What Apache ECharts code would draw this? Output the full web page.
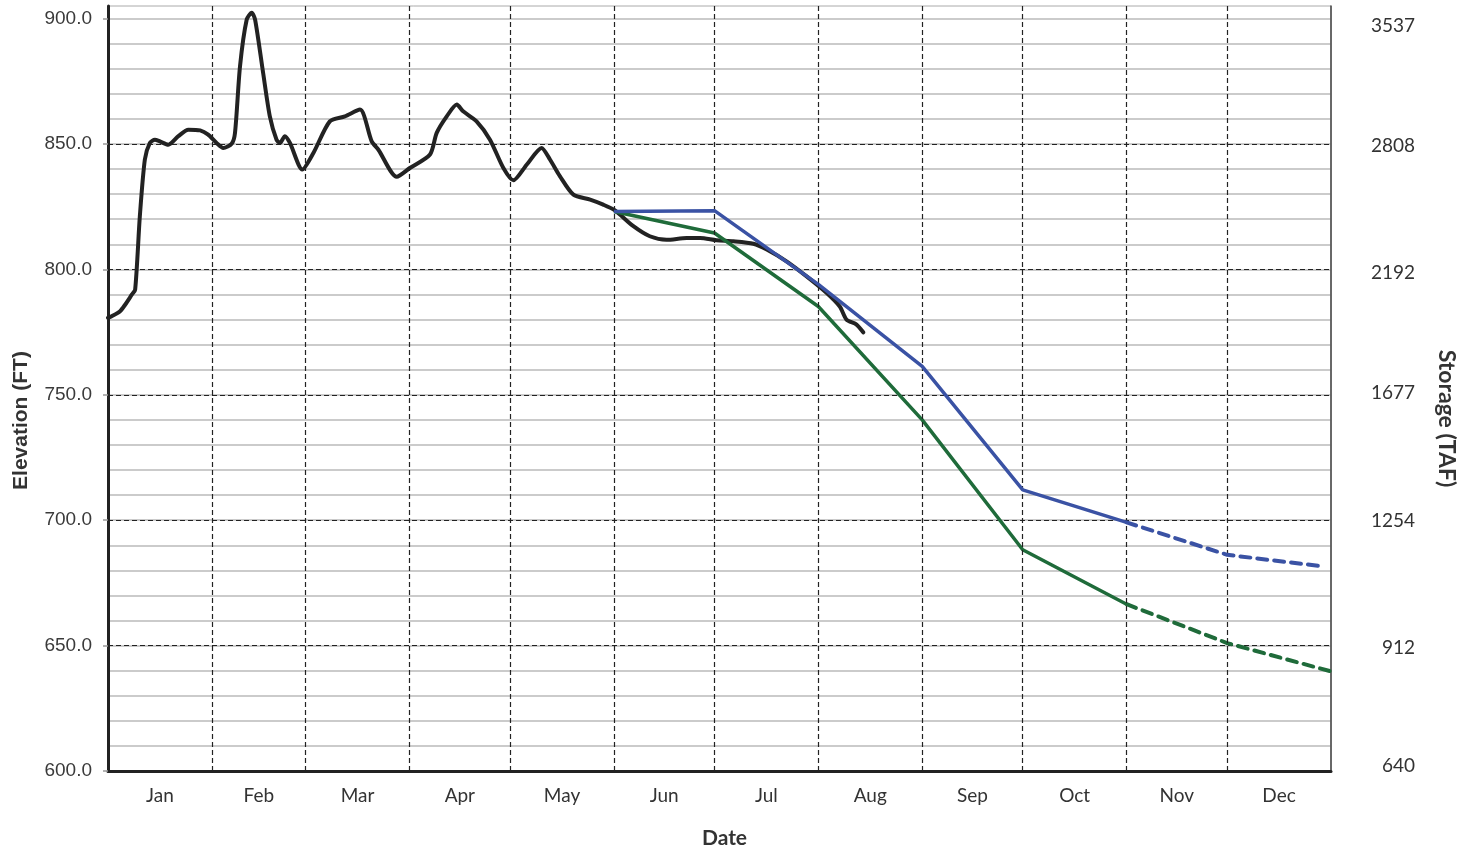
<!DOCTYPE html>
<html>
<head>
<meta charset="utf-8">
<script src="https://cdn.jsdelivr.net/npm/echarts@6/dist/echarts.min.js"></script>
<style>html,body{margin:0;padding:0;background:#fff}#c{width:1472px;height:851px}</style>
</head>
<body>
<div id="c"></div>
<script>
// ---- data ----
const monthNames = ['Jan','Feb','Mar','Apr','May','Jun','Jul','Aug','Sep','Oct','Nov','Dec'];
const monthBounds = [0,31,59,90,120,151,181,212,243,273,304,334,365];
const elevTicks = [600,650,700,750,800,850,900];
const storageLabels = ['640','912','1254','1677','2192','2808','3537'];
const storageAt = [602.0,649.1,699.6,750.7,798.6,849.1,897.2];

const obsDays = [0,1.1,3.6,5.1,7.1,8.1,9.5,11,12.5,14,15.5,18,21,24,27.5,29.9,32.4,34.4,36.9,37.9,39.4,41.4,42.9,43.9,46.3,48.3,50.3,51.3,52.8,54.3,58,61.3,66.2,70.7,75.2,78.7,80.7,86.2,90.1,96.1,98.1,101.1,104.1,106,110,114,118,121,125,129.4,131.9,134.9,138.9,143.9,147.8,151.3,156.8,161.7,166.7,172.7,176.7,181.6,186.6,192.6,196.6,202.5,208.5,214.5,218.4,220.4,223.4,225.4];
const obsElev = [780.7,781.3,783.3,785.9,789.9,791.9,821.1,843.8,850.4,851.7,851,849.7,853.1,855.7,855.4,853.7,850.4,848.4,850.1,854.4,881,899.6,902.3,899.6,878.3,861,851.7,850.4,853.1,850.4,839.8,846.4,859,861,863.7,851,847.7,836.9,840.4,845.8,854.4,861,865.7,863,859,851.7,840.4,835.5,841.8,848.4,843.8,837.1,829.8,827.8,825.8,823.5,817.2,813.2,811.8,812.5,812.5,811.6,811.2,810.2,807.9,803.2,797.2,790.6,785.2,780,778,774.9];

const blueDays = [151,181,212,243,273,304];
const blueElev = [823.1,823.4,794.0,761.3,712.1,699.1];
const blueDashDays = [304,334,363];
const blueDashElev = [699.1,686.2,681.5];

const greenDays = [151,181,212,243,273,304];
const greenElev = [823.1,814.5,785.2,740.0,688.2,666.5];
const greenDashDays = [304,334,365];
const greenDashElev = [666.5,651.0,639.7];

// ---- helpers ----
const pairs = (xs, ys) => xs.map((x, i) => [x, ys[i]]);
const monthMids = monthNames.map((_, i) => (monthBounds[i] + monthBounds[i + 1]) / 2);
const nearestIdx = (arr, v) => { let b = 0; arr.forEach((a, i) => { if (Math.abs(a - v) < Math.abs(arr[b] - v)) b = i; }); return b; };

const chart = echarts.init(document.getElementById('c'), null, {renderer: 'canvas'});
const axisFont = 'Lato, "Open Sans", sans-serif';
const sansFont = '"Liberation Sans", Arial, sans-serif';

chart.setOption({
  animation: false,
  backgroundColor: '#fff',
  grid: {left: 108, right: 141, top: 6, bottom: 80, show: true, borderColor: '#aaa', borderWidth: 1, containLabel: false, outerBoundsMode: 'none'},
  xAxis: {
    type: 'value', min: 0, max: 365,
    axisLine: {lineStyle: {color: '#222', width: 3}},
    axisTick: {show: false},
    splitLine: {show: false},
    axisLabel: {customValues: monthMids, formatter: v => monthNames[nearestIdx(monthMids, v)], margin: 15, fontFamily: axisFont, fontSize: 19, color: '#333'},
    name: 'Date', nameLocation: 'middle', nameGap: 57,
    nameTextStyle: {fontFamily: axisFont, fontWeight: 'bold', fontSize: 21, color: '#333', padding: [0, 0, 0, 10]}
  },
  yAxis: [
    {
      type: 'value', min: 600, max: 905, interval: 50, position: 'left', z: 1,
      axisLine: {show: true, lineStyle: {color: '#222', width: 3}},
      axisTick: {show: true, length: 5, customValues: elevTicks, lineStyle: {color: '#999', width: 1.5}},
      axisLabel: {customValues: elevTicks, formatter: v => v.toFixed(1), margin: 16, fontFamily: sansFont, fontSize: 19, color: '#3a3a3a'},
      splitLine: {show: true, showMinLine: false, showMaxLine: false, lineStyle: {color: '#222', width: 1.2, type: [5, 3]}},
      name: 'Elevation (FT)', nameLocation: 'middle', nameGap: 76, nameRotate: 90,
      nameTextStyle: {fontFamily: sansFont, fontWeight: 'bold', fontSize: 21, color: '#333', padding: [0, 64, 0, 0]}
    },
    {
      type: 'value', min: 600, max: 905, position: 'right',
      axisLine: {show: true, lineStyle: {color: '#444', width: 1.5}},
      axisTick: {show: false},
      splitLine: {show: false},
      axisLabel: {customValues: storageAt, formatter: v => storageLabels[nearestIdx(storageAt, v)], align: 'right', margin: 84, fontFamily: axisFont, fontSize: 19, color: '#333'},
      name: 'Storage (TAF)', nameLocation: 'middle', nameGap: 104, nameRotate: -90,
      nameTextStyle: {fontFamily: axisFont, fontWeight: 'bold', fontSize: 23, color: '#333', padding: [0, 0, 0, 60]}
    },
    {
      type: 'value', min: 600, max: 905, interval: 10, position: 'left', z: 0,
      axisLine: {show: false}, axisTick: {show: false}, axisLabel: {show: false},
      splitLine: {show: true, showMinLine: false, showMaxLine: false, lineStyle: {color: '#cbcbcb', width: 2}}
    }
  ],
  series: [
    {
      type: 'line', data: [], z: 1, silent: true,
      markLine: {
        silent: true, symbol: 'none', animation: false,
        label: {show: false},
        lineStyle: {color: '#222', width: 1.2, type: [5, 3]},
        data: monthBounds.slice(1, -1).map(d => ({xAxis: d}))
      }
    },
    {name: 'Observed', type: 'line', data: pairs(obsDays, obsElev), showSymbol: false, smooth: 0.25, z: 3,
     lineStyle: {color: '#222', width: 4, cap: 'round', join: 'round'}},
    {name: 'Min', type: 'line', data: pairs(greenDays, greenElev), showSymbol: false, z: 4,
     lineStyle: {color: '#1f6b3a', width: 3.5}},
    {name: 'Min dashed', type: 'line', data: pairs(greenDashDays, greenDashElev), showSymbol: false, z: 4,
     lineStyle: {color: '#1f6b3a', width: 4, type: [10, 7], cap: 'round'}},
    {name: 'Max', type: 'line', data: pairs(blueDays, blueElev), showSymbol: false, z: 5,
     lineStyle: {color: '#3a52a4', width: 3.5}},
    {name: 'Max dashed', type: 'line', data: pairs(blueDashDays, blueDashElev), showSymbol: false, z: 5,
     lineStyle: {color: '#3a52a4', width: 4, type: [10, 7], cap: 'round'}}
  ]
});
</script>
</body>
</html>
